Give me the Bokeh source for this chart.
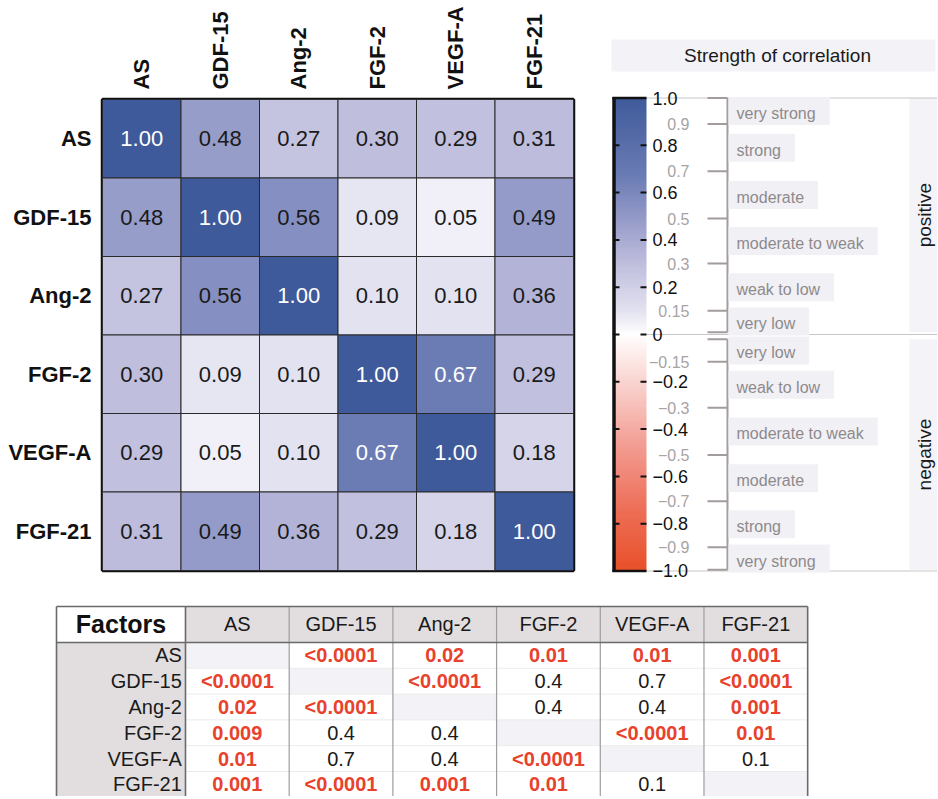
import numpy as np
from bokeh.plotting import figure
from bokeh.models import ColumnDataSource, FactorRange, Range1d, LinearColorMapper
from bokeh.transform import transform
from bokeh.layouts import column, row
from bokeh.core.properties import value
from bokeh.embed import file_html
from bokeh.resources import INLINE

# ---------------- data ----------------
factors = ["AS", "GDF-15", "Ang-2", "FGF-2", "VEGF-A", "FGF-21"]
corr_AS = [1.00, 0.48, 0.27, 0.30, 0.29, 0.31]
corr_GDF15 = [0.48, 1.00, 0.56, 0.09, 0.05, 0.49]
corr_Ang2 = [0.27, 0.56, 1.00, 0.10, 0.10, 0.36]
corr_FGF2 = [0.30, 0.09, 0.10, 1.00, 0.67, 0.29]
corr_VEGFA = [0.29, 0.05, 0.10, 0.67, 1.00, 0.18]
corr_FGF21 = [0.31, 0.49, 0.36, 0.29, 0.18, 1.00]
corr_rows = [corr_AS, corr_GDF15, corr_Ang2, corr_FGF2, corr_VEGFA, corr_FGF21]

p_AS = ["", "<0.0001", "0.02", "0.01", "0.01", "0.001"]
p_GDF15 = ["<0.0001", "", "<0.0001", "0.4", "0.7", "<0.0001"]
p_Ang2 = ["0.02", "<0.0001", "", "0.4", "0.4", "0.001"]
p_FGF2 = ["0.009", "0.4", "0.4", "", "<0.0001", "0.01"]
p_VEGFA = ["0.01", "0.7", "0.4", "<0.0001", "", "0.1"]
p_FGF21 = ["0.001", "<0.0001", "0.001", "0.01", "0.1", ""]
p_rows = [p_AS, p_GDF15, p_Ang2, p_FGF2, p_VEGFA, p_FGF21]

major_ticks = [1.0, 0.8, 0.6, 0.4, 0.2, 0.0, -0.2, -0.4, -0.6, -0.8, -1.0]
major_labels = ["1.0", "0.8", "0.6", "0.4", "0.2", "0", "\u22120.2", "\u22120.4",
                "\u22120.6", "\u22120.8", "\u22121.0"]
minor_labels_pos = ["0.9", "0.7", "0.5", "0.3", "0.15"]
minor_labels_neg = ["\u22120.15", "\u22120.3", "\u22120.5", "\u22120.7", "\u22120.9"]
band_edges_pos = [1.0, 0.89, 0.69, 0.49, 0.30, 0.10, 0.01]
band_edges_neg = [-0.02, -0.115, -0.31, -0.51, -0.705, -0.90, -0.995]
band_names_pos = ["very strong", "strong", "moderate", "moderate to weak", "weak to low", "very low"]
band_names_neg = ["very low", "weak to low", "moderate to weak", "moderate", "strong", "very strong"]

FONT = "Liberation Sans"

# ---------------- colour map ----------------
anchors = [(-1.0, "#e8512a"), (-0.75, "#ed6e56"), (-0.5, "#f2988d"), (-0.25, "#f8cbc6"),
           (0.0, "#ffffff"), (0.1, "#e3e2f0"), (0.3, "#bfbedd"), (0.5, "#9399c7"),
           (0.67, "#6b7cb5"), (1.0, "#3f5a9a")]
av = np.array([a[0] for a in anchors])
ac = np.array([[int(c[i:i + 2], 16) for i in (1, 3, 5)] for _, c in anchors], dtype=float)
grid_v = np.linspace(-1, 1, 401)
palette = []
for v in grid_v:
    rgb = [int(round(np.interp(v, av, ac[:, k]))) for k in range(3)]
    palette.append("#%02x%02x%02x" % tuple(rgb))
mapper = LinearColorMapper(palette=palette, low=-1, high=1)

# ---------------- heatmap ----------------
xs, ys, rs, labs, tcols = [], [], [], [], []
for i, rname in enumerate(factors):
    for j, cname in enumerate(factors):
        r = corr_rows[i][j]
        xs.append(cname)
        ys.append(rname)
        rs.append(r)
        labs.append("%.2f" % r)
        tcols.append("#ffffff" if r > 0.6 else "#1a1a1a")
hsrc = ColumnDataSource(dict(x=xs, y=ys, r=rs, lab=labs, tc=tcols))

heat = figure(width=599, height=597, x_range=FactorRange(factors=factors),
              y_range=FactorRange(factors=list(reversed(factors))),
              x_axis_location="above", output_backend="svg", toolbar_location=None,
              min_border_left=102, min_border_right=26, min_border_top=99, min_border_bottom=27)
heat.frame_align = False
heat.rect(x="x", y="y", width=1, height=1, source=hsrc, fill_color=transform("r", mapper),
          line_color="#2a2a2a", line_width=1)
heat.text(x="x", y="y", text="lab", source=hsrc, text_color="tc", text_align="center",
          text_baseline="middle", text_font=value(FONT), text_font_size="22px")
heat.outline_line_color = "#111111"
heat.outline_line_width = 3.5
heat.grid.visible = False
for ax in (heat.xaxis[0], heat.yaxis[0]):
    ax.axis_line_color = None
    ax.major_tick_line_color = None
    ax.minor_tick_line_color = None
    ax.major_label_text_font = FONT
    ax.major_label_text_font_style = "bold"
    ax.major_label_text_font_size = "22px"
    ax.major_label_text_color = "#111111"
heat.xaxis.major_label_orientation = "vertical"
heat.xaxis.major_label_standoff = 4
heat.yaxis.major_label_standoff = 5

# ---------------- legend ----------------
leg = figure(width=338, height=597, x_range=Range1d(0, 338), y_range=Range1d(-1.1121, 1.4123),
             output_backend="svg", toolbar_location=None, x_axis_location=None,
             y_axis_location=None, min_border=0)
leg.frame_align = False
leg.grid.visible = False
leg.outline_line_color = None

# title box
leg.quad(left=[12], right=[336], bottom=[1.112], top=[1.247], fill_color="#f3f2f6", line_color=None)
leg.text(x=[178], y=[1.18], text=["Strength of correlation"], text_align="center",
         text_baseline="middle", text_font=value(FONT), text_font_size="19px", text_color="#1a1a1a")

# side boxes
leg.quad(left=[310, 310], right=[338, 338], bottom=[band_edges_pos[-1], band_edges_neg[-1]],
         top=[band_edges_pos[0], band_edges_neg[0]], fill_color="#f4f3f7", line_color=None)
leg.text(x=[325, 325], y=[(band_edges_pos[0] + band_edges_pos[-1]) / 2,
                          (band_edges_neg[0] + band_edges_neg[-1]) / 2],
         text=["positive", "negative"], angle=np.pi / 2, text_align="center",
         text_baseline="middle", text_font=value(FONT), text_font_size="19px", text_color="#1a1a1a")

# dotted guide lines
leg.segment(x0=[47, 13, 47], x1=[338, 338, 338], y0=[1, 0, -1], y1=[1, 0, -1],
            line_color="#8f8f8f", line_width=1, line_dash="1 1")

# gradient bar
grad = np.linspace(-1, 1, 400).reshape(400, 1)
leg.image(image=[grad], x=15, y=-1, dw=32, dh=2, color_mapper=mapper)
leg.segment(x0=[14.5], x1=[14.5], y0=[-1.004], y1=[1.004], line_color="#111111", line_width=3.5)
leg.segment(x0=[13, 13], x1=[47, 47], y0=[1, -1], y1=[1, -1], line_color="#111111", line_width=2.5)
inner = [t for t in major_ticks if abs(t) < 1]
leg.segment(x0=[14] * len(inner), x1=[20] * len(inner), y0=inner, y1=inner,
            line_color="#111111", line_width=2)
leg.segment(x0=[41] * len(inner), x1=[47] * len(inner), y0=inner, y1=inner,
            line_color="#111111", line_width=2)
leg.text(x=[53] * len(major_ticks), y=major_ticks, text=major_labels, text_align="left",
         text_baseline="middle", text_font=value(FONT), text_font_size="18px", text_color="#111111")
mpos = band_edges_pos[1:6] + band_edges_neg[1:6]
leg.text(x=[90] * len(mpos), y=mpos, text=minor_labels_pos + minor_labels_neg, text_align="right",
         text_baseline="middle", text_font=value(FONT), text_font_size="16px", text_color="#a8a3a5")

# brackets
for edges in (band_edges_pos, band_edges_neg):
    leg.segment(x0=[128], x1=[128], y0=[edges[0]], y1=[edges[-1]], line_color="#a39c9d", line_width=2)
    leg.segment(x0=[108] * len(edges), x1=[128] * len(edges), y0=edges, y1=edges,
                line_color="#a39c9d", line_width=2)
mids = [(band_edges_pos[k] + band_edges_pos[k + 1]) / 2 for k in range(6)] + \
       [(band_edges_neg[k] + band_edges_neg[k + 1]) / 2 for k in range(6)]
leg.text(x=[129] * 12, y=mids, text=band_names_pos + band_names_neg, text_align="left",
         text_baseline="middle", text_font=value(FONT), text_font_size="16px",
         text_color="#8e8a8c", background_fill_color="#f1f0f5", padding=(8, 14, 8, 3))

# ---------------- p-value table ----------------
tab = figure(width=937, height=199, x_range=Range1d(-1.784, 7.252), y_range=Range1d(5.97, -1.744),
             output_backend="svg", toolbar_location=None, x_axis_location=None,
             y_axis_location=None, min_border=0)
tab.frame_align = False
tab.grid.visible = False
tab.outline_line_color = None
HT = -1.395
LL = -1.244
n = len(factors)
# backgrounds
tab.quad(left=[LL], right=[0], top=[HT], bottom=[0], fill_color="#ffffff", line_color=None)
tab.quad(left=list(range(n)), right=[j + 1 for j in range(n)], top=[HT] * n, bottom=[0] * n,
         fill_color="#e2dedf", line_color=None)
tab.quad(left=[LL], right=[0], top=[0], bottom=[n], fill_color="#e2dedf", line_color=None)
tab.quad(left=list(range(n)), right=[j + 1 for j in range(n)], top=list(range(n)),
         bottom=[j + 1 for j in range(n)], fill_color="#f3f2f6", line_color=None)
# lines
tab.segment(x0=[0] * (n - 1), x1=[n] * (n - 1), y0=list(range(1, n)), y1=list(range(1, n)),
            line_color="#ebebeb", line_width=1)
tab.segment(x0=list(range(1, n)), x1=list(range(1, n)), y0=[HT] * (n - 1), y1=[n] * (n - 1),
            line_color="#9d9d9d", line_width=1.2)
tab.segment(x0=[LL, 0, n, LL, LL], x1=[LL, 0, n, n, n], y0=[HT, HT, HT, HT, 0], y1=[n, n, n, HT, 0],
            line_color="#6a6a6a", line_width=1.6)
# texts
tab.text(x=[(LL) / 2], y=[HT / 2], text=["Factors"], text_align="center", text_baseline="middle",
         text_font=value(FONT), text_font_style="bold", text_font_size="25px", text_color="#111111")
tab.text(x=[j + 0.5 for j in range(n)], y=[HT / 2] * n, text=factors, text_align="center",
         text_baseline="middle", text_font=value(FONT), text_font_size="20px", text_color="#1a1a1a")
tab.text(x=[-0.035] * n, y=[i + 0.5 for i in range(n)], text=factors, text_align="right",
         text_baseline="middle", text_font=value(FONT), text_font_size="20px", text_color="#1a1a1a")


def is_sig(s):
    if s.startswith("<"):
        return True
    return float(s) < 0.05


sx, sy, st, nx, ny, nt = [], [], [], [], [], []
for i in range(n):
    for j in range(n):
        s = p_rows[i][j]
        if not s:
            continue
        if is_sig(s):
            sx.append(j + 0.5); sy.append(i + 0.5); st.append(s)
        else:
            nx.append(j + 0.5); ny.append(i + 0.5); nt.append(s)
tab.text(x=sx, y=sy, text=st, text_align="center", text_baseline="middle", text_font=value(FONT),
         text_font_style="bold", text_font_size="20px", text_color="#e8412c")
tab.text(x=nx, y=ny, text=nt, text_align="center", text_baseline="middle", text_font=value(FONT),
         text_font_size="20px", text_color="#1a1a1a")

layout = column(row(heat, leg), tab)
open("out.html", "w").write(file_html(layout, INLINE))
